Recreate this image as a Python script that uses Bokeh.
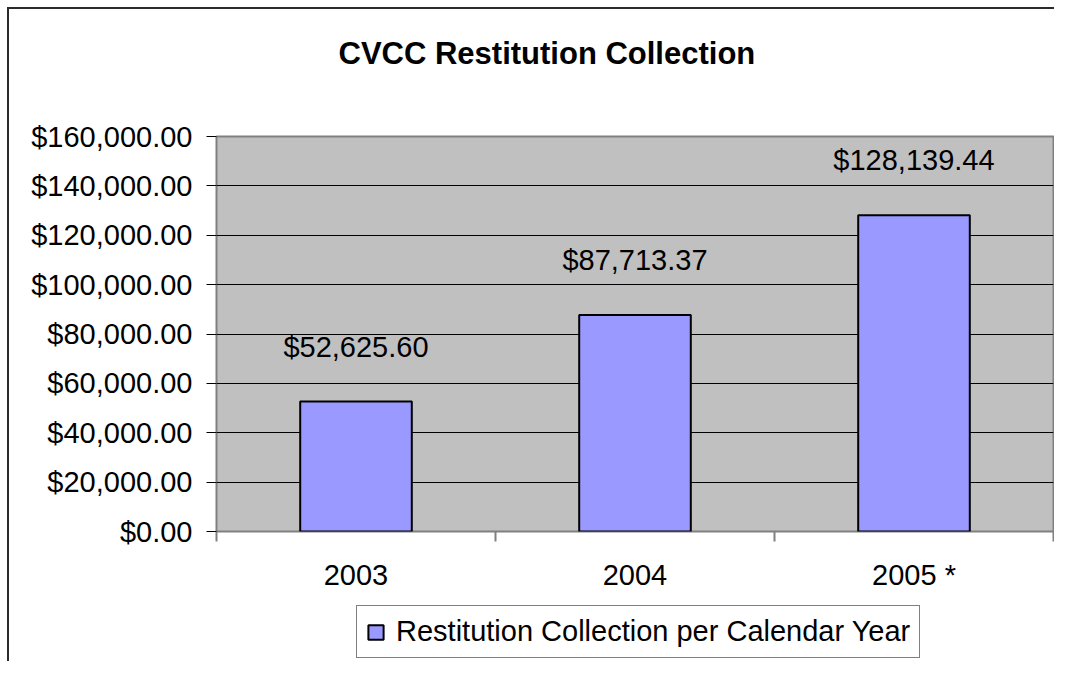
from bokeh.plotting import figure
from bokeh.layouts import column
from bokeh.models import (ColumnDataSource, FixedTicker, SingleIntervalTicker, NumeralTickFormatter,
                          LabelSet, Title, Legend, LegendItem, Range1d, LinearAxis)
from bokeh.core.properties import value
from bokeh.embed import file_html
from bokeh.resources import INLINE

# ---- data ----
categories = ["2003", "2004", "2005 *"]
collected = [52625.60, 87713.37, 128139.44]
bar_labels = ["$52,625.60", "$87,713.37", "$128,139.44"]
title_text = "CVCC Restitution Collection"
series_name = "Restitution Collection per Calendar Year"

FONT = "Liberation Sans"
BAR_FILL = "#9999FF"
xs = [i + 1 for i in range(len(categories))]

src = ColumnDataSource(data=dict(x=xs, top=collected, lab=bar_labels))

W, H_MAIN, H_LEG = 1054, 600, 61

p = figure(width=W, height=H_MAIN, output_backend="svg", toolbar_location=None,
           x_range=Range1d(0.5, len(categories) + 0.5), y_range=Range1d(0, 160000),
           min_border_left=216, min_border_top=136, min_border_right=1, min_border_bottom=69)

p.background_fill_color = "#C0C0C0"
p.border_fill_alpha = 0
p.outline_line_color = "#808080"
p.outline_line_width = 2

# grid
p.xgrid.grid_line_color = None
p.ygrid.grid_line_color = "black"
p.ygrid.grid_line_width = 1

# y axis
p.yaxis.ticker = SingleIntervalTicker(interval=20000)
p.yaxis.formatter = NumeralTickFormatter(format="$0,0.00")
p.yaxis.axis_line_color = None
p.yaxis.major_tick_in = 0
p.yaxis.major_tick_out = 10
p.yaxis.major_tick_line_color = "black"
p.yaxis.minor_tick_line_color = None
p.yaxis.major_label_standoff = 14
p.yaxis.major_label_text_font = FONT
p.yaxis.major_label_text_font_size = "29px"
p.yaxis.major_label_text_color = "black"

# x axis
p.xaxis.ticker = FixedTicker(ticks=xs, minor_ticks=[x - 0.5 for x in xs] + [xs[-1] + 0.5])
p.xaxis.major_label_overrides = {x: c for x, c in zip(xs, categories)}
p.xaxis.axis_line_color = None
p.xaxis.major_tick_in = 0
p.xaxis.major_tick_out = 0
p.xaxis.minor_tick_in = 0
p.xaxis.minor_tick_out = 10
p.xaxis.minor_tick_line_color = "#808080"
p.xaxis.minor_tick_line_width = 2
p.xaxis.major_label_standoff = 17
p.xaxis.major_label_text_font = FONT
p.xaxis.major_label_text_font_size = "29px"
p.xaxis.major_label_text_color = "black"

# invisible spacer above the frame, so the title sits near the top of the chart
spacer = LinearAxis(ticker=FixedTicker(ticks=[]), axis_line_color=None,
                    major_tick_line_color=None, minor_tick_line_color=None,
                    major_tick_out=0, minor_tick_out=0, major_tick_in=0, minor_tick_in=0,
                    major_label_text_font_size="0px",
                    axis_label=" ", axis_label_text_font_size="2px", axis_label_standoff=56)
p.add_layout(spacer, "above")

bars = p.vbar(x="x", top="top", width=0.4, source=src, fill_color=BAR_FILL,
              line_color="black", line_width=2)

labels = LabelSet(x="x", y="top", text="lab", source=src, y_offset=45,
                  text_align="center", text_baseline="alphabetic",
                  text_font=value(FONT), text_font_size=value("29px"), text_color="black")
p.add_layout(labels)

# title
p.title = Title(text=title_text, align="left", offset=122, vertical_align="bottom", standoff=10,
                text_font=FONT, text_font_size="31px", text_font_style="bold", text_color="black")

# ---- legend strip below the chart ----
p2 = figure(width=W, height=H_LEG, output_backend="svg", toolbar_location=None,
            x_axis_type=None, y_axis_type=None, min_border=0,
            x_range=Range1d(0, 1), y_range=Range1d(0, 1))
p2.outline_line_color = None
p2.background_fill_alpha = 0
p2.border_fill_alpha = 0
# same series, hidden here; used only to draw the legend swatch
ghost = p2.vbar(x="x", top="top", width=0.4, source=src, fill_color=BAR_FILL,
                line_color="black", line_width=2, visible=False)

legend = Legend(items=[LegendItem(label=series_name, renderers=[ghost])],
                location=(140, 3), orientation="horizontal",
                label_text_font=FONT, label_text_font_size="29px", label_text_color="black",
                glyph_width=19, glyph_height=18, label_standoff=11, padding=9, margin=0,
                border_line_color="black", border_line_width=1, background_fill_color="white",
                background_fill_alpha=1, inactive_fill_alpha=0)
p2.add_layout(legend)

layout = column(p, p2, spacing=0)
# outer chart border (left and top edges) drawn as the element's background
layout.styles = {
    "background": "linear-gradient(#2b2b2b,#2b2b2b) 7px 7px / 2px 100% no-repeat, "
                  "linear-gradient(#2b2b2b,#2b2b2b) 7px 7px / 100% 2px no-repeat, #ffffff"
}

open("out.html", "w").write(file_html(layout, INLINE))
